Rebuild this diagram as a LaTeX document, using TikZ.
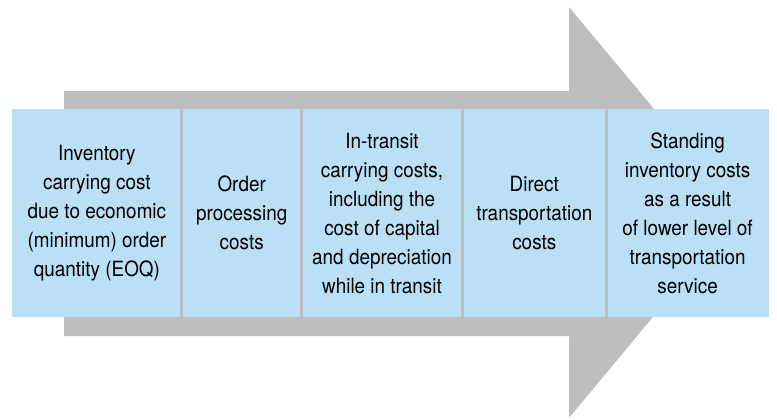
\documentclass[tikz,border=0pt]{standalone}
\usepackage{fontspec}
\setmainfont{TeX Gyre Heros}[FakeStretch=0.9]
\usepackage{tikz}
\usetikzlibrary{positioning}
\definecolor{cellblue}{RGB}{187,224,245}
\definecolor{arrowgray}{RGB}{190,190,192}

\begin{document}
\begin{tikzpicture}[x=0.5pt, y=-0.5pt,
    cell/.style={fill=cellblue, minimum height=104pt, inner sep=0pt, align=center,
      font=\fontsize{10.5}{14.5}\selectfont},
    divider/.style={draw=arrowgray, line width=1.5pt}]
  \useasboundingbox (0,0) rectangle (777,419);
  % big gray arrow behind the cost boxes
  \fill[arrowgray] (64,91) -- (569,91) -- (569,7) -- (740,212)
    -- (569,418) -- (569,336) -- (64,336) -- cycle;
  \node[cell, minimum width=84.5pt, anchor=west] (eoq) at (12,213)
    {Inventory\\carrying cost\\due to economic\\(minimum) order\\quantity (EOQ)};
  \node[cell, minimum width=59.5pt, right=0pt of eoq] (order)
    {Order\\processing\\costs};
  \node[cell, minimum width=80pt, right=0pt of order] (transit)
    {In-transit\\carrying costs,\\including the\\cost of capital\\and depreciation\\while in transit};
  \node[cell, minimum width=71.5pt, right=0pt of transit] (direct)
    {Direct\\transportation\\costs};
  \node[cell, minimum width=81pt, right=0pt of direct] (standing)
    {Standing\\inventory costs\\as a result\\of lower level of\\transportation\\service};
  \draw[divider] (eoq.north east) -- (eoq.south east);
  \draw[divider] (order.north east) -- (order.south east);
  \draw[divider] (transit.north east) -- (transit.south east);
  \draw[divider] (direct.north east) -- (direct.south east);
\end{tikzpicture}
\end{document}
